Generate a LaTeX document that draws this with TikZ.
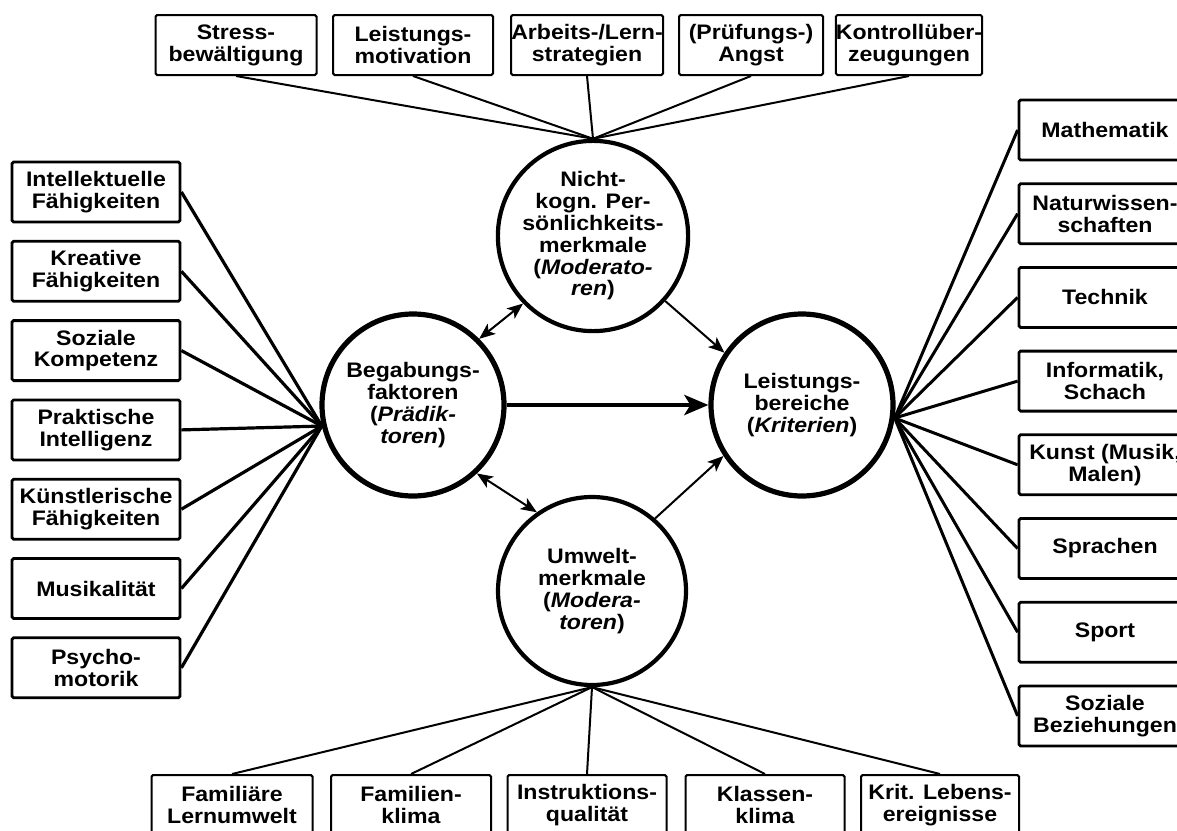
\documentclass[tikz,border=0pt]{standalone}
\usepackage{fontspec}
\setmainfont{Liberation Sans}[FakeStretch=1.1]
\usetikzlibrary{arrows.meta}

\newcommand\boxfont{\fontsize{10.5}{10.9}\selectfont\bfseries}

\tikzset{
  kasten/.style={draw,line width=1pt,rounded corners=0.8pt,align=center,
    inner sep=0pt,minimum height=30pt,font=\boxfont},
  kreis/.style={draw,circle,align=center,inner sep=0pt,font=\boxfont},
  pfeil/.style={line width=1pt,-{Stealth[length=8pt,width=6.5pt,inset=2pt]}},
  dpfeil/.style={line width=1pt,{Stealth[length=8pt,width=6.5pt,inset=2pt]}-{Stealth[length=8pt,width=6.5pt,inset=2pt]}},
}

\begin{document}
\begin{tikzpicture}[x=0.5pt,y=-0.5pt]
\useasboundingbox (0,0) rectangle (1177,830);
\clip (0,0) rectangle (1177,830);

\node[kreis,line width=2.6pt,minimum size=91pt] (beg) at (413,405)
  {Begabungs-\\faktoren\\(\textit{Prädik-}\\\textit{toren})};
\node[kreis,line width=2.6pt,minimum size=91pt] (lei) at (802,405)
  {Leistungs-\\bereiche\\(\textit{Kriterien})};
\node[kreis,line width=2.1pt,minimum size=88pt] (nicht) at (593,236)
  {Nicht-\\kogn. Per-\\sönlichkeits-\\merkmale\\(\textit{Moderato-}\\\textit{ren})};
\node[kreis,line width=2.1pt,minimum size=94pt] (umw) at (592,591)
  {Umwelt-\\merkmale\\(\textit{Modera-}\\\textit{toren})};

\draw[line width=2.3pt,-{Stealth[length=12pt,width=10pt,inset=3pt]}] (beg.east) -- (lei.west);
\draw[pfeil] (nicht.-42) -- (lei.146);
\draw[pfeil] (umw.49) -- (lei.213);
\draw[dpfeil] (beg.45) -- (nicht.224);
\draw[dpfeil] (beg.-47) -- (umw.125);

% Moderatoren oben
\foreach \n/\x/\w/\txt in {stress/236/80.5/{Stress-\\bewältigung},
    motiv/413/80/{Leistungs-\\motivation},
    strat/587/76/{Arbeits-/Lern-\\strategien},
    angst/751/72/{(Prüfungs-)\\Angst},
    kontr/909/72.5/{Kontrollüber-\\zeugungen}}{
  \node[kasten,minimum width=\w pt] (\n) at (\x,45) {\txt};
  \draw[line width=1pt] (\n.south) -- (nicht.north);
}

% Praediktoren links
\foreach \n/\txt [count=\i from 0] in {intell/{Intellektuelle\\Fähigkeiten},
    kreat/{Kreative\\Fähigkeiten},
    sozkomp/{Soziale\\Kompetenz},
    prakt/{Praktische\\Intelligenz},
    kuenstl/{Künstlerische\\Fähigkeiten},
    musik/{Musikalität},
    psycho/{Psycho-\\motorik}}{
  \node[kasten,line width=1.4pt,minimum width=84pt] (\n) at (96,192+79.3*\i) {\txt};
  \draw[line width=1.6pt] (\n.east) -- (beg.193);
}

% Kriterien rechts
\foreach \n/\txt [count=\i from 0] in {mathe/{Mathematik},
    natur/{Naturwissen-\\schaften},
    technik/{Technik},
    inform/{Informatik,\\Schach},
    kunst/{Kunst (Musik,\\Malen)},
    sprachen/{Sprachen},
    sport/{Sport},
    sozbez/{Soziale\\Beziehungen}}{
  \node[kasten,line width=1.4pt,minimum width=86pt] (\n) at (1105,130+83.7*\i) {\txt};
  \draw[line width=1.5pt] (\n.west) -- (lei.-8);
}

% Moderatoren unten
\foreach \n/\x/\w/\txt in {famlern/232/80.5/{Familiäre\\Lernumwelt},
    famklima/411/80/{Familien-\\klima},
    instr/587/79.5/{Instruktions-\\qualität},
    klasse/765/79.5/{Klassen-\\klima},
    krit/940/79/{Krit. Lebens-\\ereignisse}}{
  \node[kasten,minimum width=\w pt] (\n) at (\x,805) {\txt};
  \draw[line width=1pt] (\n.north) -- (umw.south);
}
\end{tikzpicture}
\end{document}
